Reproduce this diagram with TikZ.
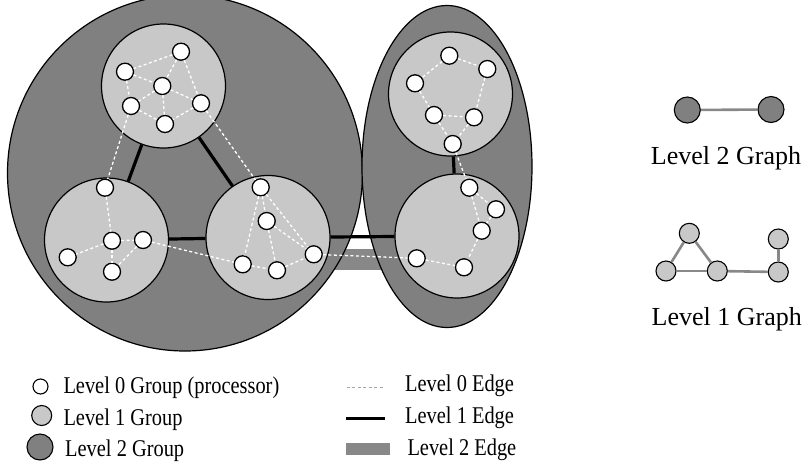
\documentclass[tikz,border=0pt]{standalone}
\usepackage{fontspec}
\setmainfont{Liberation Serif}
\usepackage{graphicx}
\usetikzlibrary{shapes.geometric}
\definecolor{lvtwo}{RGB}{128,128,128}
\definecolor{lvone}{RGB}{200,200,200}
\definecolor{bandgray}{RGB}{136,136,136}
\tikzset{
  grpTwo/.style={ellipse, draw=black, line width=1.2pt, fill=lvtwo, inner sep=0pt},
  grpOne/.style={circle, draw=black, line width=1.2pt, fill=lvone, minimum size=124pt, inner sep=0pt},
  proc/.style={circle, draw=black, line width=1.3pt, fill=white, minimum size=17pt, inner sep=0pt},
  edgeZero/.style={white, line width=1.3pt, dash pattern=on 3pt off 2.5pt},
  edgeOne/.style={black, line width=3.2pt},
  edgeTwo/.style={bandgray, line width=20.5pt},
  iconTwo/.style={circle, draw=black, line width=1.1pt, fill=lvtwo, minimum size=26pt, inner sep=0pt},
  iconOne/.style={circle, draw=black, line width=1.1pt, fill=lvone, minimum size=20pt, inner sep=0pt},
  iconEdge/.style={bandgray, line width=2.6pt},
  legtext/.style={anchor=base west, inner sep=0pt, font=\fontsize{24}{28}\selectfont},
  bigtext/.style={anchor=base, inner sep=0pt, font=\fontsize{26}{30}\selectfont}
}
\newcommand{\nrw}[1]{\scalebox{0.85}[1]{#1}}
\begin{document}
\begin{tikzpicture}[x=1pt,y=-1pt]
\useasboundingbox (0,0) rectangle (804,467);
% level 2 edge (band)
\coordinate (g2a) at (318,259.7);
\coordinate (g2b) at (402,259.7);
\draw[edgeTwo] (g2a) -- (g2b);
% level 2 groups
\node[grpTwo, minimum width=355pt, minimum height=356pt] (G1) at (185,173) {};
\node[grpTwo, minimum width=170pt, minimum height=322pt] (G2) at (447,166.5) {};
% level 1 groups
\node[grpOne] (A) at (163.5,86) {};
\node[grpOne] (B) at (106.5,240) {};
\node[grpOne] (C) at (268,237.5) {};
\node[grpOne] (D) at (450.5,94) {};
\node[grpOne] (E) at (457,236) {};
% level 1 edges
\draw[edgeOne] (A) -- (B);
\draw[edgeOne] (A) -- (C);
\draw[edgeOne] (B) -- (C);
\draw[edgeOne] (C) -- (E);
\draw[edgeOne] (D) -- (E);
% level 0 nodes
\node[proc] (a1) at (181,51.7) {};
\node[proc] (a2) at (125,71.7) {};
\node[proc] (a3) at (162.3,86) {};
\node[proc] (a4) at (131,106) {};
\node[proc] (a5) at (201,103.3) {};
\node[proc] (a6) at (165,124) {};
\node[proc] (b1) at (105,187.7) {};
\node[proc] (b2) at (112,240.7) {};
\node[proc] (b3) at (143,240) {};
\node[proc] (b4) at (67.7,257.3) {};
\node[proc] (b5) at (112,271.7) {};
\node[proc] (c1) at (260.7,187.3) {};
\node[proc] (c2) at (266.7,221) {};
\node[proc] (c3) at (242.7,264.3) {};
\node[proc] (c4) at (277,270.3) {};
\node[proc] (c5) at (313.7,254.3) {};
\node[proc] (d1) at (449.3,55.7) {};
\node[proc] (d2) at (487.3,69) {};
\node[proc] (d3) at (415,83.3) {};
\node[proc] (d4) at (434,115) {};
\node[proc] (d5) at (474,117.3) {};
\node[proc] (d6) at (452.7,144) {};
\node[proc] (e1) at (469.3,187.7) {};
\node[proc] (e2) at (496,209.3) {};
\node[proc] (e3) at (481.7,230.7) {};
\node[proc] (e4) at (416.7,258.3) {};
\node[proc] (e5) at (464,267.3) {};
% level 0 edges
\foreach \u/\v in {a1/a2,a1/a3,a1/a5,a2/a3,a2/a4,a3/a4,a3/a5,a3/a6,a4/a6,a5/a6,
  b1/b2,b2/b3,b2/b4,b2/b5,b3/b5,
  c1/c2,c1/c3,c1/c5,c2/c4,c2/c5,c3/c4,c4/c5,
  d1/d2,d1/d3,d2/d5,d3/d4,d4/d5,d4/d6,d5/d6,
  e1/e2,e1/e3,e2/e3,e3/e5,e4/e5,
  a4/b1,a5/c1,b3/c3,c5/e4,d6/e1}
  \draw[edgeZero] (\u) -- (\v);
% right: level 2 graph
\node[iconTwo] (p1) at (687.3,110) {};
\node[iconTwo] (p2) at (771,109.5) {};
\draw[iconEdge] (p1) -- (p2);
\node[bigtext] (t2) at (726,164.5) {Level 2 Graph};
% right: level 1 graph
\node[iconOne] (q1) at (689.3,233.3) {};
\node[iconOne] (q2) at (666,271) {};
\node[iconOne] (q3) at (717.3,271) {};
\node[iconOne] (q4) at (778.3,272) {};
\node[iconOne] (q5) at (778.3,239) {};
\draw[iconEdge] (q1) -- (q2);
\draw[iconEdge] (q1) -- (q3);
\draw[iconEdge] (q2) -- (q3);
\draw[iconEdge] (q3) -- (q4);
\draw[iconEdge] (q4) -- (q5);
\node[bigtext] (t1) at (726.7,325) {Level 1 Graph};
% legend: groups
\node[proc, minimum size=15pt, line width=1.1pt] (k0) at (40.5,386.5) {};
\node[iconOne, minimum size=20pt] (k1) at (41.7,415.5) {};
\node[iconTwo, minimum size=26pt] (k2) at (40,447) {};
\node[legtext] (k0t) at (63.3,393.3) {\nrw{Level 0 Group (processor)}};
\node[legtext] (k1t) at (63.3,425) {\nrw{Level 1 Group}};
\node[legtext] (k2t) at (65,456.7) {\nrw{Level 2 Group}};
% legend: edges
\coordinate (m0a) at (346.7,387.7); \coordinate (m0b) at (385,387.7);
\coordinate (m1a) at (346,418.3); \coordinate (m1b) at (385,418.3);
\coordinate (m2a) at (345.7,442.7); \coordinate (m2b) at (390,455);
\draw[gray!70, line width=1pt, dash pattern=on 3pt off 2.5pt] (m0a) -- (m0b);
\draw[black, line width=3.3pt] (m1a) -- (m1b);
\fill[bandgray] (m2a) rectangle (m2b);
\node[legtext] (e0t) at (405,391.7) {\nrw{Level 0 Edge}};
\node[legtext] (e1t) at (405,423.3) {\nrw{Level 1 Edge}};
\node[legtext] (e2t) at (407.3,455) {\nrw{Level 2 Edge}};
\end{tikzpicture}
\end{document}
